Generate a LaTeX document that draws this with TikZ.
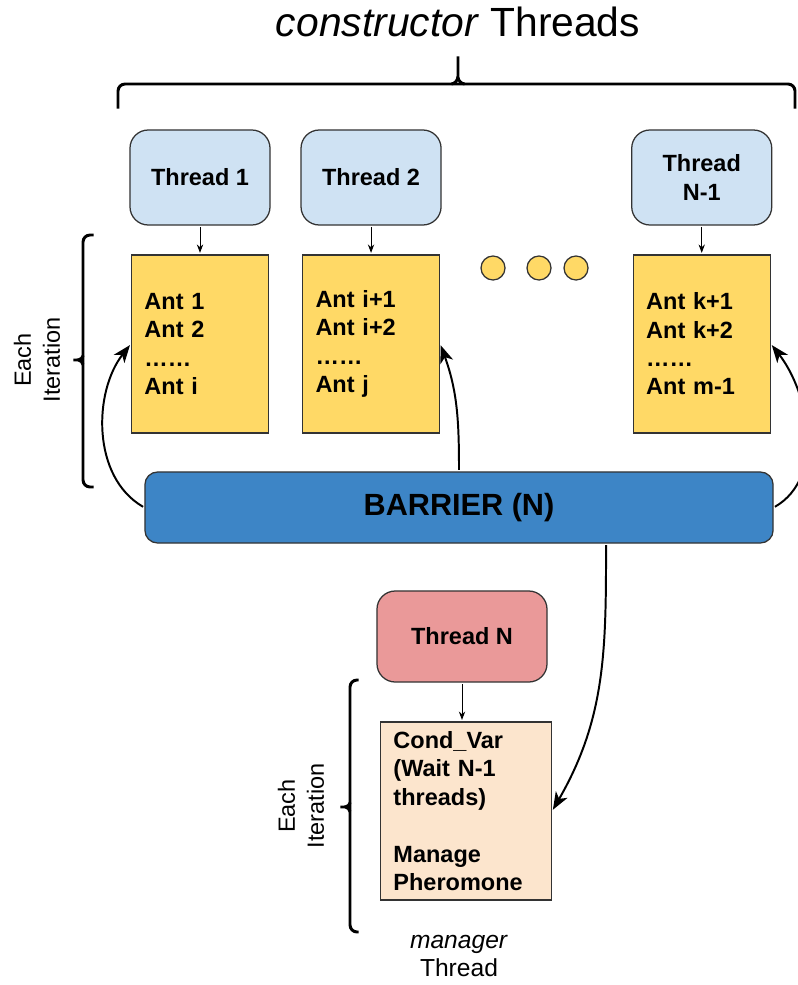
\documentclass[tikz,border=0pt]{standalone}
\usepackage{fontspec}
\setmainfont{Liberation Sans}
\usepackage{xcolor}
\usetikzlibrary{arrows.meta,positioning}
\definecolor{threadblue}{HTML}{CFE2F3}
\definecolor{antyellow}{HTML}{FFD966}
\definecolor{barblue}{HTML}{3D85C6}
\definecolor{mgrred}{HTML}{EA9999}
\definecolor{condpeach}{HTML}{FCE5CD}
\tikzset{
	x=0.025cm, y=0.025cm, % one unit is one pixel of the sketch
	on grid,
	shorten >=1pt,
	shorten <=1pt,
	boxtext/.style={font=\fontsize{16.7}{20.2}\selectfont\bfseries},
	box/.style={boxtext, draw=black!80, line width=0.9pt},
	thread/.style={box, rounded corners=13pt, fill=threadblue, minimum width=3.5cm, minimum height=2.375cm, align=center},
	antbox/.style={box, fill=antyellow, text width=2.775cm, inner xsep=0.325cm, minimum height=4.45cm, align=left},
	barrier/.style={draw=black!80, line width=0.9pt, rounded corners=9pt, fill=barblue, minimum width=15.7cm, minimum height=1.775cm, font=\fontsize{21.8}{26}\selectfont\bfseries},
	mgrthread/.style={thread, fill=mgrred, minimum width=4.25cm, minimum height=2.275cm},
	condbox/.style={box, fill=condpeach, text width=3.625cm, inner xsep=0.325cm, minimum height=4.45cm, align=left},
	dot/.style={circle, draw=black!80, line width=0.9pt, fill=antyellow, minimum size=0.6cm, inner sep=0pt},
	iter/.style={font=\fontsize{16.7}{20.5}\selectfont, align=center},
	brace/.style={line width=2.1pt, rounded corners=5pt},
	bracetip/.style={line width=2.1pt, sharp corners},
	link/.style={-{Stealth[length=6pt,width=4.5pt]}, line width=0.7pt}, % thread to its work
	flow/.style={-{Stealth[length=12.5pt,width=9.5pt,inset=3.5pt]}, line width=1.4pt}, % barrier release
}
\begin{document}
\begin{tikzpicture}
	\useasboundingbox (0,0) rectangle (797,-985);
	\node[font=\fontsize{29}{34}\selectfont] (title) at (458,-22) {\textit{constructor} Threads};
	\draw[brace] (118,-110) -- (118,-84) -- (795,-84) -- (795,-110);
	\draw[bracetip] (450,-84) to[out=0,in=-90] (458,-76) -- (458,-55);
	\draw[bracetip] (458,-76) to[out=-90,in=180] (466,-84);
	
	\node[thread] (th1) at (200,-177.5) {Thread 1};
	\node[thread, right=4.275cm of th1] (th2) {Thread 2};
	\node[thread, right=12.54cm of th1] (thn1) {Thread\\N-1};
	\node[antbox, below=4.16cm of th1] (ant1) {Ant 1\\Ant 2\\……\\Ant i};
	\node[antbox, below=4.16cm of th2] (ant2) {Ant i+1\\Ant i+2\\……\\Ant j};
	\node[antbox, below=4.16cm of thn1] (antn1) {Ant k+1\\Ant k+2\\……\\Ant m-1};
	\foreach \x in {493,539,576}
		\node[dot] (dot\x) at (\x,-268) {};
	
	\draw[link] (th1) -- (ant1);
	\draw[link] (th2) -- (ant2);
	\draw[link] (thn1) -- (antn1);
	
	\draw[brace] (95,-235) -- (83,-235) -- (83,-487) -- (95,-487);
	\draw[bracetip] (83,-354) to[out=-90,in=0] (77,-360) -- (72,-360);
	\draw[bracetip] (77,-360) to[out=0,in=90] (83,-366);
	\node[iter, rotate=90] (iter1) at (37,-360) {Each\\Iteration};
	
	\node[barrier] (bar) at (459,-507.5) {BARRIER (N)};
	\draw[flow] (bar.west) to[out=150,in=232,looseness=0.95] (ant1.west);
	\draw[flow] (bar.east) to[out=30,in=-52,looseness=0.95] (antn1.east);
	\draw[flow] (bar.north) to[out=90,in=-70] (ant2.east);
	
	\node[mgrthread] (thn) at (462,-636.5) {Thread N};
	\node[condbox] (cond) at (466,-811) {Cond\_Var\\(Wait N-1\\threads)\\[\baselineskip]Manage\\Pheromone};
	\draw[link] (thn) -- (thn |- cond.north);
	\draw[flow] ([xshift=3.675cm]bar.south) to[out=-90,in=60] (cond.east);
	
	\draw[brace] (360,-680) -- (350,-680) -- (350,-932) -- (360,-932);
	\draw[bracetip] (350,-801) to[out=-90,in=0] (344,-807) -- (339,-807);
	\draw[bracetip] (344,-807) to[out=0,in=90] (350,-813);
	\node[iter, rotate=90] (iter2) at (301,-806) {Each\\Iteration};
	\node[iter, font=\fontsize{17.5}{20.5}\selectfont] (mgr) at (459,-956) {\textit{manager}\\Thread};
\end{tikzpicture}
\end{document}
